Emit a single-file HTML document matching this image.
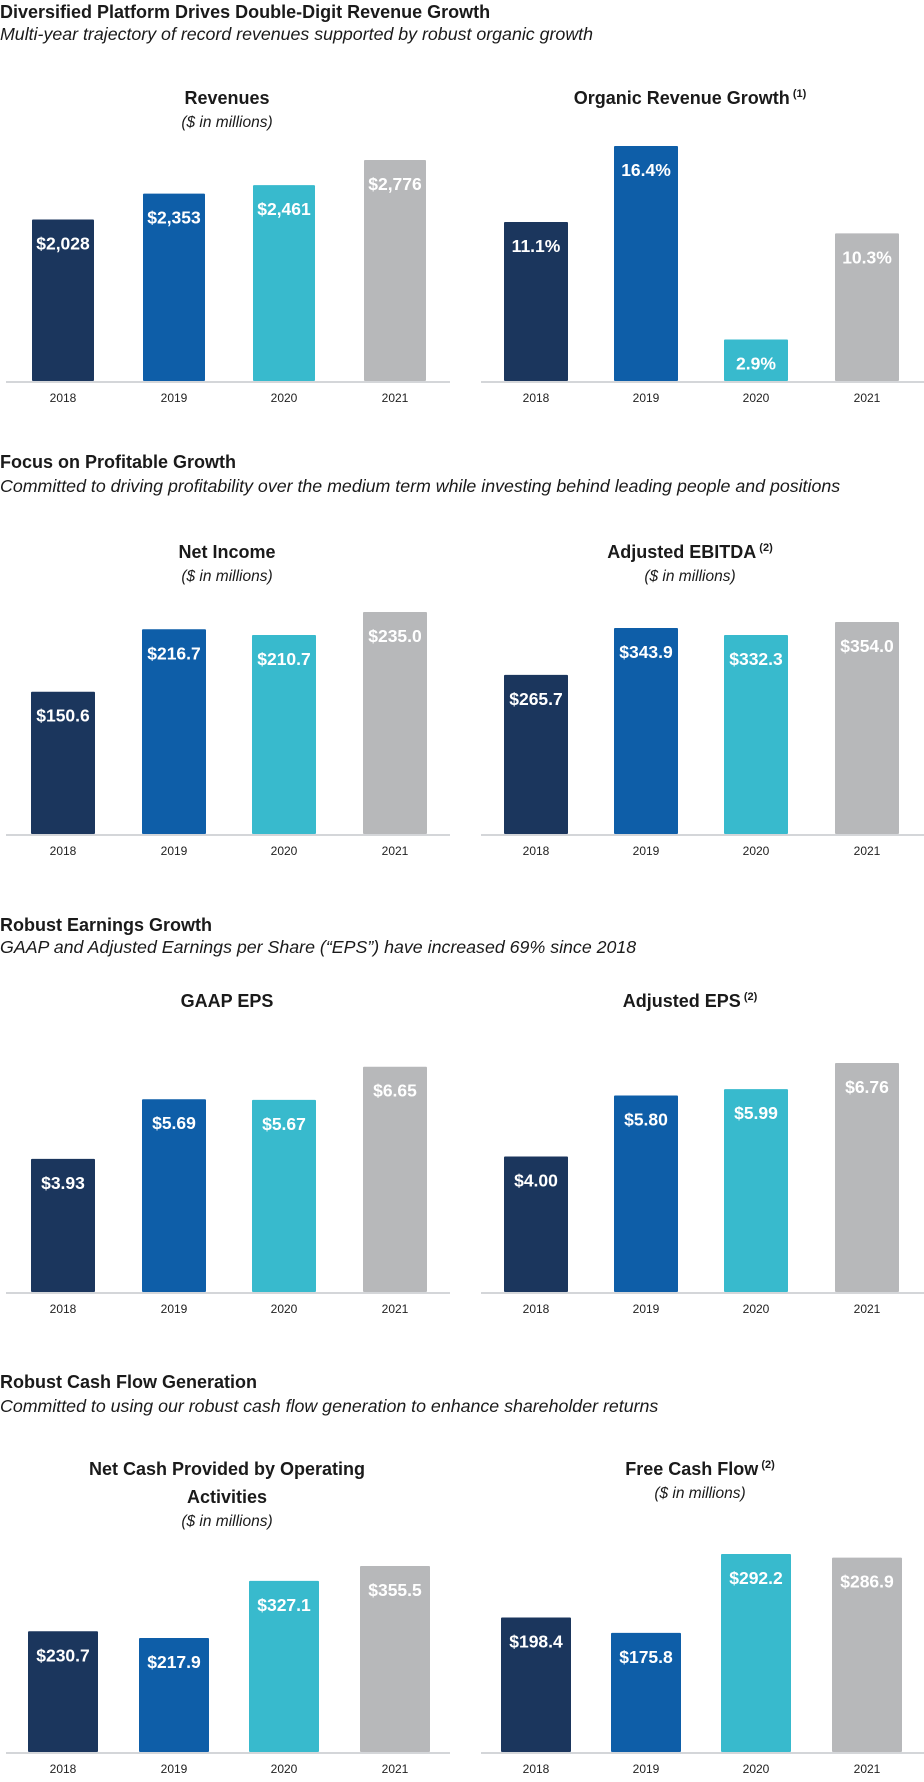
<!DOCTYPE html>
<html><head><meta charset="utf-8">
<style>
body{margin:0;background:#fff;width:924px;height:1782px;position:relative;font-family:"Liberation Sans",sans-serif;overflow:hidden}
.st{position:absolute;left:0;font-weight:bold;font-size:18px;color:#1a1a1a;line-height:20px}
.ss{position:absolute;left:0;font-style:italic;font-size:17.8px;color:#1a1a1a;line-height:20px;white-space:nowrap}
svg{position:absolute;left:0;top:0}
</style></head><body>
<div class="st" style="top:2px">Diversified Platform Drives Double-Digit Revenue Growth</div>
<div class="ss" style="top:24px">Multi-year trajectory of record revenues supported by robust organic growth</div>
<div class="st" style="top:452px">Focus on Profitable Growth</div>
<div class="ss" style="top:476px">Committed to driving profitability over the medium term while investing behind leading people and positions</div>
<div class="st" style="top:915px">Robust Earnings Growth</div>
<div class="ss" style="top:937px">GAAP and Adjusted Earnings per Share (“EPS”) have increased 69% since 2018</div>
<div class="st" style="top:1372px">Robust Cash Flow Generation</div>
<div class="ss" style="top:1396px">Committed to using our robust cash flow generation to enhance shareholder returns</div>
<svg id="c" width="924" height="1782"></svg>
<script>
const years = ["2018","2019","2020","2021"];
const colors = ["#1b365d","#0e5ea8","#38bacd","#b7b8ba"];
const revenues = [2028, 2353, 2461, 2776];
const revenueLabels = ["$2,028","$2,353","$2,461","$2,776"];
const organic = [11.1, 16.4, 2.9, 10.3];
const organicLabels = ["11.1%","16.4%","2.9%","10.3%"];
const netIncome = [150.6, 216.7, 210.7, 235.0];
const netIncomeLabels = ["$150.6","$216.7","$210.7","$235.0"];
const ebitda = [265.7, 343.9, 332.3, 354.0];
const ebitdaLabels = ["$265.7","$343.9","$332.3","$354.0"];
const gaapEps = [3.93, 5.69, 5.67, 6.65];
const gaapEpsLabels = ["$3.93","$5.69","$5.67","$6.65"];
const adjEps = [4.00, 5.80, 5.99, 6.76];
const adjEpsLabels = ["$4.00","$5.80","$5.99","$6.76"];
const opCash = [230.7, 217.9, 327.1, 355.5];
const opCashLabels = ["$230.7","$217.9","$327.1","$355.5"];
const fcf = [198.4, 175.8, 292.2, 286.9];
const fcfLabels = ["$198.4","$175.8","$292.2","$286.9"];

const NS="http://www.w3.org/2000/svg";
const svg=document.getElementById('c');
function mk(tag,attrs,text){const e=document.createElementNS(NS,tag);for(const k in attrs)e.setAttribute(k,attrs[k]);if(text!==undefined)e.textContent=text;svg.appendChild(e);return e;}

function chart(o){
  const left=o.side===0;
  const x0=left?6:481, x1=left?450:924;
  const centers=left?[63,174,284,395]:[536,646,756,867];
  const bw=o.bw||62;
  const pxPer=o.maxPx/o.maxVal;
  const y=v=>o.base-v*pxPer;
  const cx=(x0+x1)/2-(left?0:8);
  o.title.forEach((t,i)=>{
    const tt=mk('text',{x:o.tx||cx,y:o.ty+i*28,'text-anchor':'middle','font-size':18,'font-weight':'bold',fill:'#1a1a1a'});
    
    
    tt.appendChild(document.createTextNode(t));
    if(o.sup&&i===o.title.length-1){const s=document.createElementNS(NS,'tspan');s.setAttribute('font-size',11);s.setAttribute('dy',-7);s.textContent=' '+o.sup;tt.appendChild(s);}
  });
  if(o.sub){const s=mk('text',{x:o.tx||cx,y:o.ty+(o.title.length-1)*28+23,'text-anchor':'middle','font-size':15.5,'font-style':'italic',fill:'#1a1a1a'},'($ in millions)');
    
    }
  const ax=mk('line',{x1:x0,x2:x1,y1:o.base+1,y2:o.base+1,stroke:'#d4d6d9','stroke-width':2});
  
  
  o.values.forEach((v,i)=>{
    const r=mk('rect',{x:centers[i]-bw/2,y:y(v),width:bw,height:o.base-y(v),fill:colors[i],rx:1});
    
    
    const t=mk('text',{x:centers[i],y:y(v)+30,'text-anchor':'middle','font-size':17.5,'font-weight':'bold',fill:'#fff'},o.labels[i]);
    
    
    const l=mk('text',{x:centers[i],y:o.base+21,'text-anchor':'middle','font-size':12,fill:'#222'},years[i]);
    
    
  });
}
chart({name:'revenues',side:0,values:revenues,labels:revenueLabels,maxVal:2776,maxPx:221,base:381,title:['Revenues'],sub:true,ty:104,tx:227});
chart({name:'organic-growth',side:1,values:organic,labels:organicLabels,maxVal:16.4,maxPx:235,base:381,title:['Organic Revenue Growth'],sup:'(1)',ty:104,tx:690,bw:64});
chart({name:'net-income',side:0,values:netIncome,labels:netIncomeLabels,maxVal:235,maxPx:222,base:834,title:['Net Income'],sub:true,ty:558,tx:227,bw:64});
chart({name:'adjusted-ebitda',side:1,values:ebitda,labels:ebitdaLabels,maxVal:354,maxPx:212,base:834,title:['Adjusted EBITDA'],sup:'(2)',sub:true,ty:558,tx:690,bw:64});
chart({name:'gaap-eps',side:0,values:gaapEps,labels:gaapEpsLabels,maxVal:6.76,maxPx:229,base:1292,title:['GAAP EPS'],ty:1007,tx:227,bw:64});
chart({name:'adjusted-eps',side:1,values:adjEps,labels:adjEpsLabels,maxVal:6.76,maxPx:229,base:1292,title:['Adjusted EPS'],sup:'(2)',ty:1007,tx:690,bw:64});
chart({name:'operating-cash',side:0,values:opCash,labels:opCashLabels,maxVal:355.5,maxPx:186,base:1752,title:['Net Cash Provided by Operating','Activities'],sub:true,ty:1475,tx:227,bw:70});
chart({name:'free-cash-flow',side:1,values:fcf,labels:fcfLabels,maxVal:292.2,maxPx:198,base:1752,title:['Free Cash Flow'],sup:'(2)',sub:true,ty:1475,tx:700,bw:70});
</script>
</body></html>
